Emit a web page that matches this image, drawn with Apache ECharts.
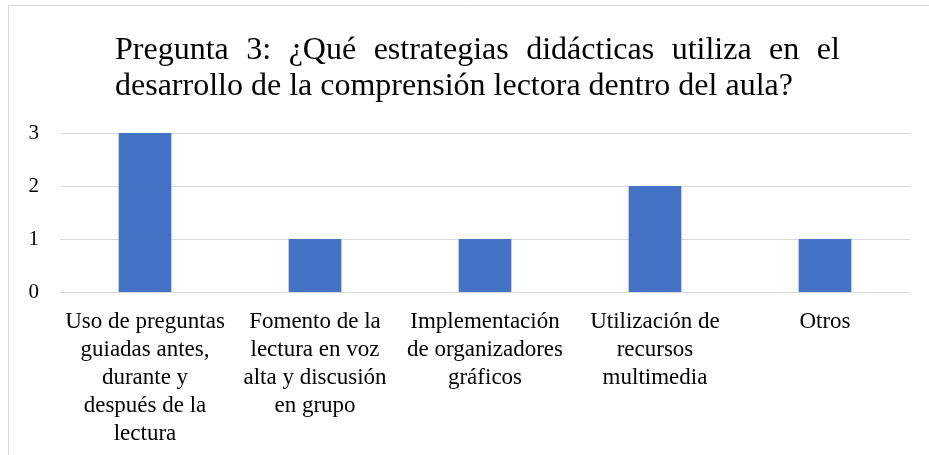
<!DOCTYPE html>
<html>
	<head>
		<meta charset="utf-8">
		<title>Pregunta 3</title>
		<script src="https://cdn.jsdelivr.net/npm/echarts@6/dist/echarts.min.js"></script>
		<style>
			body { margin: 0; background: #fff; }
		</style>
	</head>
	<body>
		<div id="main" style="width: 929px;height:455px;"></div>
		<script type="text/javascript">
			// datos
			var categorias = [
				'Uso de preguntas\nguiadas antes,\ndurante y\ndespués de la\nlectura',
				'Fomento de la\nlectura en voz\nalta y discusión\nen grupo',
				'Implementación\nde organizadores\ngráficos',
				'Utilización de\nrecursos\nmultimedia',
				'Otros'
			];
			var valores = [3, 1, 1, 2, 1];
			var ticksY = [0, 1, 2, 3];
			var tituloLinea1 = ['Pregunta', '3:', '¿Qué', 'estrategias', 'didácticas', 'utiliza', 'en', 'el'];
			var tituloLinea2 = 'desarrollo de la comprensión lectora dentro del aula?';

			var myChart = echarts.init(document.getElementById('main'));
			var fuente = '"Liberation Serif", "Times New Roman", serif';

			// primera línea justificada: espacios más anchos
			var titulo = tituloLinea1.join('{s| }') + '\n' + tituloLinea2;

			option = {
				animation: false,
				backgroundColor: '#fff',
				title: {
					text: titulo,
					left: 110,
					top: 28,
					textStyle: {
						fontFamily: fuente,
						fontWeight: 'normal',
						fontSize: 32,
						lineHeight: 36,
						color: '#000',
						rich: {
							s: { width: 17.5, fontSize: 32, lineHeight: 36, fontFamily: fuente }
						}
					}
				},
				graphic: [{
					type: 'rect',
					shape: { x: 8.5, y: 5.5, width: 1000, height: 1000 },
					style: { fill: 'none', stroke: '#d9d9d9', lineWidth: 1 },
					silent: true
				}],
				grid: {
					left: 60,
					right: 19,
					top: 133,
					bottom: 163
				},
				xAxis: {
					type: 'category',
					data: categorias,
					axisTick: { show: false },
					axisLine: { lineStyle: { color: '#d9d9d9', width: 1 } },
					axisLabel: {
						interval: 0,
						margin: 16,
						fontFamily: fuente,
						fontSize: 23,
						lineHeight: 28,
						color: '#000'
					}
				},
				yAxis: {
					type: 'value',
					min: ticksY[0],
					max: ticksY[ticksY.length - 1],
					interval: 1,
					axisLine: { show: false },
					axisTick: { show: false },
					axisLabel: {
						margin: 21,
						fontFamily: fuente,
						fontSize: 21,
						color: '#000'
					},
					splitLine: {
						show: true,
						lineStyle: { color: '#d9d9d9', width: 1 }
					}
				},
				series: [{
					type: 'bar',
					barWidth: '31%',
					itemStyle: { color: '#4472c4' },
					data: valores
				}]
			};
			myChart.setOption(option);
		</script>
	</body>
</html>
